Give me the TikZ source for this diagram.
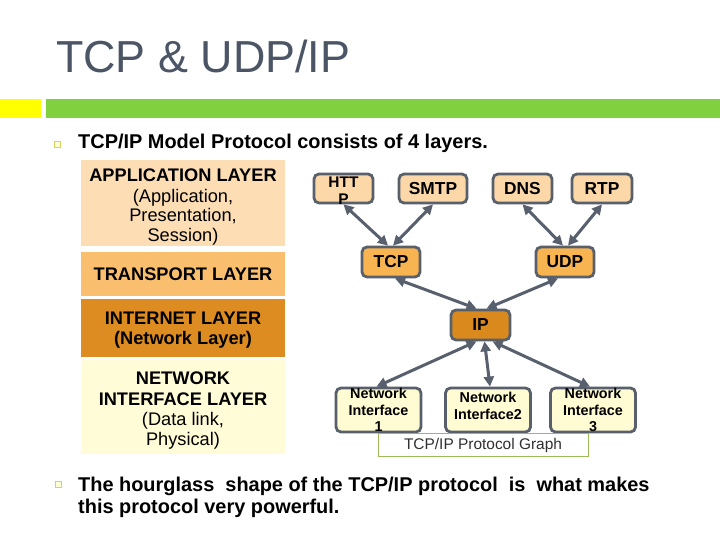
\documentclass[tikz,border=0pt]{standalone}
\usepackage{fontspec}
\setmainfont{Liberation Sans}
\usetikzlibrary{arrows.meta,calc}
\definecolor{titlec}{HTML}{4B5565}
\definecolor{yellowbar}{HTML}{FFFF00}
\definecolor{greenbar}{HTML}{80D040}
\definecolor{appc}{HTML}{FCDDB4}
\definecolor{transc}{HTML}{F9BF6E}
\definecolor{netc}{HTML}{DC8C20}
\definecolor{nic}{HTML}{FFFCD7}
\definecolor{protoc}{HTML}{FCD8A8}
\definecolor{tcpc}{HTML}{F9B452}
\definecolor{ipc}{HTML}{DA8A1C}
\definecolor{nifill}{HTML}{FFFBD2}
\definecolor{gborder}{HTML}{58606C}
\definecolor{arrowc}{HTML}{58606E}
\definecolor{capborder}{HTML}{9BBB59}
\definecolor{captext}{HTML}{303030}
\definecolor{bulletc}{HTML}{D4D45A}
\definecolor{bulletfill}{HTML}{FFFFD8}
\tikzset{
  layer/.style={rectangle, draw=white, line width=1.5bp, minimum width=206bp, inner sep=0, align=center, font=\fontsize{18.3}{19.8}\selectfont},
  layerlbl/.style={align=center, inner sep=0, font=\fontsize{18.3}{19.8}\selectfont},
  gnode/.style={rectangle, rounded corners=5bp, draw=gborder, line width=2.8bp, inner sep=0, align=center, font=\bfseries\fontsize{17.4}{18}\selectfont},
  ninode/.style={gnode, fill=nifill, minimum width=85bp, minimum height=44bp},
  nilbl/.style={align=center, inner sep=0, font=\bfseries\fontsize{14.4}{16.8}\selectfont},
  link/.style={arrowc, line width=3bp, {Triangle[length=10bp,width=10bp]}-{Triangle[length=10bp,width=10bp]}},
  bulletsq/.style={rectangle, draw=bulletc, fill=bulletfill, line width=1bp, minimum size=6bp, inner sep=0},
  bodytext/.style={anchor=base west, inner sep=0, font=\bfseries\fontsize{20}{22.5}\selectfont, align=left}
}
\begin{document}
\begin{tikzpicture}[x=1bp,y=-1bp]
\useasboundingbox (0,0) rectangle (720,540);
\fill[white] (0,0) rectangle (720,540);

% title and bars
\node[anchor=base west, inner sep=0, text=titlec, font=\fontsize{45}{50}\selectfont] (title) at (56,73) {TCP \& UDP/IP};
\fill[yellowbar] (0,99) rectangle (41,118);
\fill[greenbar] (46,99) rectangle (720,118);

% first bullet
\node[bulletsq] (b1) at (57,144.5) {};
\node[bodytext] (t1) at (78,149) {TCP/IP Model Protocol consists of 4 layers.};

% layer stack
\node[layer, fill=appc, minimum height=88bp] (app) at (183,203) {};
\node[layerlbl] (applbl) at (183,207) {{\bfseries APPLICATION LAYER}\\[1pt](Application,\\Presentation,\\Session)};
\node[layer, fill=transc, minimum height=46bp] (trans) at (183,274) {\bfseries TRANSPORT LAYER};
\node[layer, fill=netc, minimum height=60bp] (inet) at (183,328) {};
\node[layerlbl] (inetlbl) at (183,330) {\bfseries INTERNET LAYER\\[1pt]\bfseries (Network Layer)};
\node[layer, fill=nic, minimum height=97bp] (nil) at (183,406.5) {};
\node[layerlbl] (nillbl) at (183,410.5) {{\bfseries NETWORK}\\[1pt]{\bfseries INTERFACE LAYER}\\[1pt](Data link,\\Physical)};

% protocol graph
\node[gnode, fill=protoc, minimum width=59bp, minimum height=29bp] (http) at (343.5,188.5) {};
\node[align=center, inner sep=0, font=\bfseries\fontsize{15.5}{17}\selectfont] (httplbl) at (343.5,191) {HTT\\P};
\node[gnode, fill=protoc, minimum width=68bp, minimum height=29bp] (smtp) at (433,188.5) {SMTP};
\node[gnode, fill=protoc, minimum width=59bp, minimum height=29bp] (dns) at (522.5,188.5) {DNS};
\node[gnode, fill=protoc, minimum width=60bp, minimum height=29bp] (rtp) at (602,188.5) {RTP};
\node[gnode, fill=tcpc, minimum width=58bp, minimum height=30bp] (tcp) at (391,262) {TCP};
\node[gnode, fill=tcpc, minimum width=58bp, minimum height=30bp] (udp) at (565,262) {UDP};
\node[gnode, fill=ipc, minimum width=59bp, minimum height=30bp] (ip) at (480.5,325) {IP};
\node[ninode] (ni1) at (378.5,410) {};
\node[ninode] (ni2) at (488,410) {};
\node[ninode] (ni3) at (593,410) {};
\node[nilbl] (ni1lbl) at (378.5,410) {Network\\Interface\\1};
\node[nilbl] (ni2lbl) at (488,406) {Network\\Interface2};
\node[nilbl] (ni3lbl) at (593,410) {Network\\Interface\\3};

\draw[link] (http.south) -- ([xshift=-3bp]tcp.north);
\draw[link] (smtp.south) -- ([xshift=2bp]tcp.north);
\draw[link] (dns.south) -- ([xshift=-2bp]udp.north);
\draw[link] (rtp.south) -- ([xshift=3bp]udp.north);
\draw[link] ([xshift=4bp]tcp.south) -- ([xshift=-4bp]ip.north);
\draw[link] ([xshift=-7bp]udp.south) -- ([xshift=6bp]ip.north);
\draw[link] ([xshift=-4bp]ip.south) -- ([xshift=-2bp]ni1.north);
\draw[link] ([xshift=4bp]ip.south) -- ([xshift=2bp]ni2.north);
\draw[link] ([xshift=12bp]ip.south) -- ([xshift=-3bp]ni3.north);

\node[rectangle, draw=capborder, fill=white, line width=0.8bp, minimum width=210bp, minimum height=23bp, inner sep=0, text=captext, font=\fontsize{15.5}{17}\selectfont] (cap) at (483,444.5) {};
\node[inner sep=0, text=captext, font=\fontsize{15.5}{17}\selectfont] (caplbl) at (483,446) {TCP/IP Protocol Graph};

% second bullet
\node[bulletsq] (b2) at (58.5,484) {};
\node[bodytext] (t2) at (78,491) {The hourglass\ \ shape of the TCP/IP protocol\ \ is\ \ what makes};
\node[bodytext] (t3) at (78,513) {this protocol very powerful.};
\end{tikzpicture}
\end{document}
